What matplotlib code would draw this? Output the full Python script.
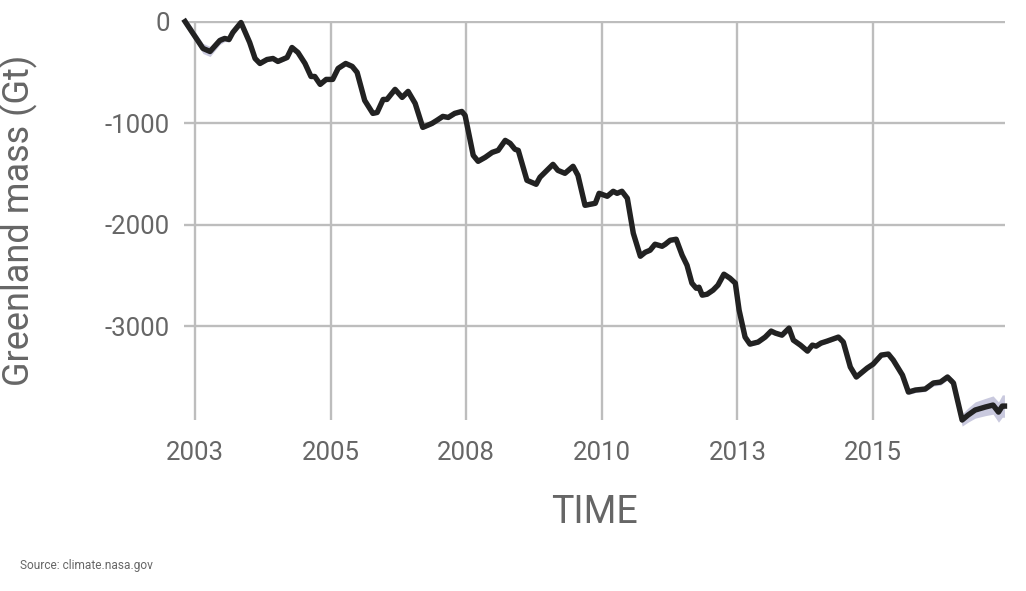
import matplotlib
matplotlib.use("Agg")
import matplotlib.pyplot as plt

# Greenland ice mass change (Gt, relative to 2002)
years = [
    2002.32, 2002.65, 2002.78, 2002.96, 2003.05, 2003.13, 2003.20, 2003.35, 2003.51, 2003.61,
    2003.70, 2003.83, 2003.94, 2004.03, 2004.20, 2004.29, 2004.40, 2004.53, 2004.64, 2004.71,
    2004.81, 2004.92, 2005.04, 2005.14, 2005.28, 2005.40, 2005.49, 2005.63, 2005.78, 2005.86,
    2005.97, 2006.04, 2006.19, 2006.32, 2006.43, 2006.56, 2006.70, 2006.87, 2006.96, 2007.07,
    2007.17, 2007.29, 2007.42, 2007.48, 2007.63, 2007.72, 2007.85, 2007.98, 2008.09, 2008.22,
    2008.31, 2008.40, 2008.46, 2008.62, 2008.79, 2008.86, 2008.99, 2009.10, 2009.19, 2009.32,
    2009.47, 2009.56, 2009.69, 2009.78, 2009.88, 2009.95, 2010.10, 2010.21, 2010.28, 2010.37,
    2010.47, 2010.58, 2010.71, 2010.80, 2010.89, 2010.98, 2011.11, 2011.17, 2011.26, 2011.37,
    2011.48, 2011.57, 2011.66, 2011.74, 2011.79, 2011.85, 2011.94, 2012.05, 2012.14, 2012.25,
    2012.36, 2012.46, 2012.53, 2012.64, 2012.73, 2012.88, 2013.01, 2013.12, 2013.20, 2013.32,
    2013.45, 2013.53, 2013.66, 2013.79, 2013.88, 2013.95, 2014.04, 2014.15, 2014.36, 2014.45,
    2014.58, 2014.69, 2014.78, 2014.89, 2015.00, 2015.15, 2015.28, 2015.37, 2015.54, 2015.65,
    2015.78, 2015.96, 2016.11, 2016.24, 2016.37, 2016.48, 2016.64, 2016.75, 2016.88, 2017.07,
    2017.21, 2017.31, 2017.38, 2017.42,
]
mass = [
    0, -265, -295, -187, -167, -177, -108, -10, -206, -364,
    -413, -374, -364, -393, -354, -256, -305, -413, -541, -541,
    -619, -570, -570, -462, -413, -442, -501, -777, -904, -895,
    -767, -767, -668, -747, -688, -806, -1042, -1003, -973, -934,
    -944, -904, -885, -924, -1317, -1376, -1337, -1288, -1268, -1170,
    -1199, -1258, -1268, -1563, -1602, -1533, -1465, -1406, -1465, -1494,
    -1425, -1514, -1809, -1799, -1789, -1691, -1720, -1671, -1691, -1671,
    -1740, -2084, -2310, -2271, -2251, -2192, -2212, -2192, -2153, -2143,
    -2300, -2399, -2575, -2625, -2615, -2693, -2684, -2644, -2595, -2487,
    -2526, -2575, -2841, -3106, -3175, -3155, -3106, -3047, -3067, -3087,
    -3018, -3136, -3185, -3244, -3185, -3195, -3165, -3146, -3106, -3155,
    -3401, -3499, -3460, -3411, -3372, -3283, -3273, -3332, -3480, -3647,
    -3627, -3617, -3558, -3549, -3499, -3558, -3922, -3873, -3824, -3794,
    -3775, -3844, -3785, -3785,
]
uncertainty = [
    45, 50, 50, 40, 30, 25, 25, 20, 20, 20,
    20, 20, 20, 20, 20, 20, 20, 20, 20, 20,
    20, 20, 20, 20, 20, 20, 20, 20, 20, 20,
    20, 20, 20, 20, 20, 20, 20, 20, 20, 20,
    20, 20, 20, 20, 20, 20, 20, 20, 20, 20,
    20, 20, 20, 20, 20, 20, 20, 20, 20, 20,
    20, 20, 20, 20, 20, 20, 20, 20, 20, 20,
    20, 20, 20, 20, 20, 20, 20, 20, 20, 20,
    20, 20, 20, 20, 20, 20, 20, 20, 20, 20,
    20, 20, 20, 20, 20, 20, 20, 20, 20, 20,
    20, 20, 20, 20, 20, 20, 20, 20, 20, 20,
    20, 20, 20, 20, 20, 20, 20, 20, 20, 25,
    25, 25, 30, 30, 30, 40, 60, 70, 80, 85,
    90, 100, 110, 110,
]

tick_years = [2002.5, 2005, 2007.5, 2010, 2012.5, 2015]
tick_labels = ["2003", "2005", "2008", "2010", "2013", "2015"]
mass_ticks = [0, -1000, -2000, -3000]
mass_labels = ["0", "-1000", "-2000", "-3000"]

plt.rcParams["font.family"] = ["Roboto", "DejaVu Sans"]
plt.rcParams["axes.unicode_minus"] = False

grey_text = "#666666"

fig = plt.figure(figsize=(10.26, 5.91), dpi=100)
ax = fig.add_axes([184 / 1026, 1 - 420 / 591, 821 / 1026, 399 / 591])

lower = [m - u for m, u in zip(mass, uncertainty)]
upper = [m + u for m, u in zip(mass, uncertainty)]
ax.fill_between(years, lower, upper, color="#c9c9de", linewidth=0, zorder=2, clip_on=False)
ax.plot(years, mass, color="#222222", linewidth=3.9, solid_joinstyle="round",
        zorder=3, clip_on=False)

ax.set_xlim(min(years) - 0.02, max(years) + 0.01)
ax.set_ylim(min(mass), 5)

ax.set_xticks(tick_years)
ax.set_xticklabels(tick_labels)
ax.set_yticks(mass_ticks)
ax.set_yticklabels(mass_labels)
ax.tick_params(axis="both", length=0, labelsize=18.5, labelcolor=grey_text)
ax.tick_params(axis="x", pad=15)
ax.tick_params(axis="y", pad=10)

ax.grid(True, color="#bdbdbd", linewidth=1.7, zorder=1)
ax.set_axisbelow(True)
for spine in ax.spines.values():
    spine.set_visible(False)

ax.set_xlabel("TIME", fontsize=27, color=grey_text, va="center")
ax.xaxis.set_label_coords(0.5, -0.231)
ax.set_ylabel("Greenland mass (Gt)", fontsize=26, color=grey_text, va="center")
ax.yaxis.set_label_coords(-0.2015, 0.5)

fig.text(20 / 1026, 1 - 566 / 591, "Source: climate.nasa.gov", fontsize=8.6,
         color=grey_text, ha="left", va="center")

fig.savefig("out.png", dpi=100)
